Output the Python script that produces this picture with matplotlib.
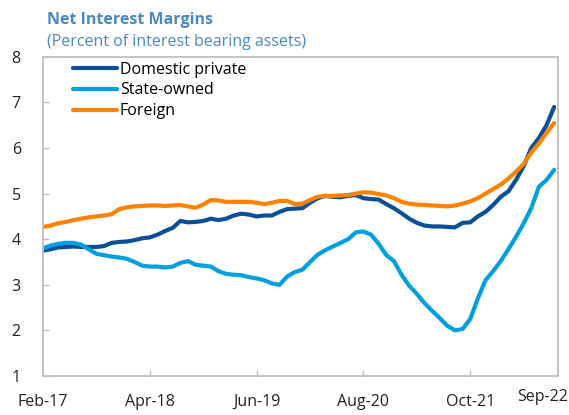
import numpy as np
import matplotlib
matplotlib.use("Agg")
import matplotlib.pyplot as plt
import matplotlib.transforms as mtransforms

plt.rcParams['font.family'] = ['Open Sans', 'DejaVu Sans']

# monthly, Feb-17 .. Sep-22
domestic_private = [3.75, 3.78, 3.82, 3.83, 3.84, 3.83, 3.83, 3.83, 3.85, 3.92,
                    3.94, 3.95, 3.98, 4.02, 4.04, 4.10, 4.18, 4.25, 4.40, 4.37,
                    4.38, 4.40, 4.45, 4.42, 4.45, 4.52, 4.56, 4.54, 4.50, 4.52,
                    4.52, 4.60, 4.66, 4.67, 4.68, 4.80, 4.90, 4.95, 4.93, 4.92,
                    4.95, 4.97, 4.90, 4.88, 4.87, 4.77, 4.68, 4.57, 4.45, 4.36,
                    4.30, 4.28, 4.28, 4.27, 4.26, 4.36, 4.37, 4.50, 4.60, 4.75,
                    4.93, 5.05, 5.30, 5.60, 6.00, 6.22, 6.50, 6.90]
state_owned = [3.80, 3.86, 3.90, 3.92, 3.92, 3.88, 3.78, 3.68, 3.65, 3.62,
               3.60, 3.57, 3.50, 3.42, 3.40, 3.40, 3.38, 3.40, 3.48, 3.52,
               3.44, 3.42, 3.40, 3.30, 3.24, 3.22, 3.21, 3.17, 3.14, 3.10,
               3.03, 3.00, 3.18, 3.28, 3.33, 3.50, 3.66, 3.76, 3.84, 3.92,
               4.00, 4.15, 4.17, 4.10, 3.90, 3.65, 3.52, 3.22, 2.98, 2.80,
               2.60, 2.43, 2.27, 2.10, 2.00, 2.03, 2.25, 2.70, 3.10, 3.30,
               3.52, 3.78, 4.05, 4.35, 4.68, 5.15, 5.30, 5.52]
foreign = [4.27, 4.30, 4.35, 4.38, 4.42, 4.45, 4.48, 4.50, 4.52, 4.55,
           4.66, 4.70, 4.72, 4.73, 4.74, 4.74, 4.73, 4.74, 4.75, 4.72,
           4.69, 4.76, 4.86, 4.85, 4.82, 4.82, 4.82, 4.82, 4.80, 4.77,
           4.80, 4.84, 4.84, 4.77, 4.78, 4.86, 4.93, 4.95, 4.95, 4.96,
           4.97, 5.00, 5.03, 5.02, 4.99, 4.96, 4.90, 4.82, 4.78, 4.76,
           4.75, 4.74, 4.73, 4.72, 4.74, 4.78, 4.83, 4.90, 5.00, 5.10,
           5.20, 5.33, 5.48, 5.65, 5.90, 6.10, 6.33, 6.55]

tick_pos = [0, 14, 28, 42, 56]
tick_labels = ["Feb-17", "Apr-18", "Jun-19", "Aug-20", "Oct-21"]
last_label = "Sep-22"

x = np.arange(len(domestic_private))
grey = "#BFBFBF"
title_col = "#4A89C4"

fig = plt.figure(figsize=(5.69, 4.15), dpi=100)
ax = fig.add_axes([0.0756, 0.094, 0.905, 0.769])

ax.plot(x, domestic_private, color="#0B4F96", lw=3, label="Domestic private", solid_capstyle="round")
ax.plot(x, state_owned, color="#00A0DF", lw=3, label="State-owned", solid_capstyle="round")
ax.plot(x, foreign, color="#FF8200", lw=3, label="Foreign", solid_capstyle="round")

ax.set_xlim(0, 67.5)
ax.set_ylim(1, 8)
ax.set_yticks(range(1, 9))
ax.set_xticks(tick_pos)
ax.set_xticklabels(tick_labels)
ax.tick_params(axis="both", direction="in", length=4.5, width=1, color=grey,
               labelsize=11.5, pad=13, labelcolor="#222222")
ax.tick_params(axis="y", pad=16)
for s in ax.spines.values():
    s.set_color(grey)
    s.set_linewidth(1.3)

trans = mtransforms.blended_transform_factory(ax.transData, fig.transFigure)
ax.text(65.5, 0.034, last_label, transform=trans, ha="center", va="baseline",
        fontsize=11.5, color="#222222")

ax.legend(loc="upper left", bbox_to_anchor=(0.045, 1.005), frameon=False, fontsize=11.5,
          handlelength=2.8, handletextpad=0.15, labelspacing=0.3, borderaxespad=0)

fig.text(0.082, 0.942, "Net Interest Margins", fontsize=11.5, fontweight="bold", color=title_col)
fig.text(0.082, 0.888, "(Percent of interest bearing assets)", fontsize=11.5, color=title_col)

fig.savefig("out.png", dpi=100)
